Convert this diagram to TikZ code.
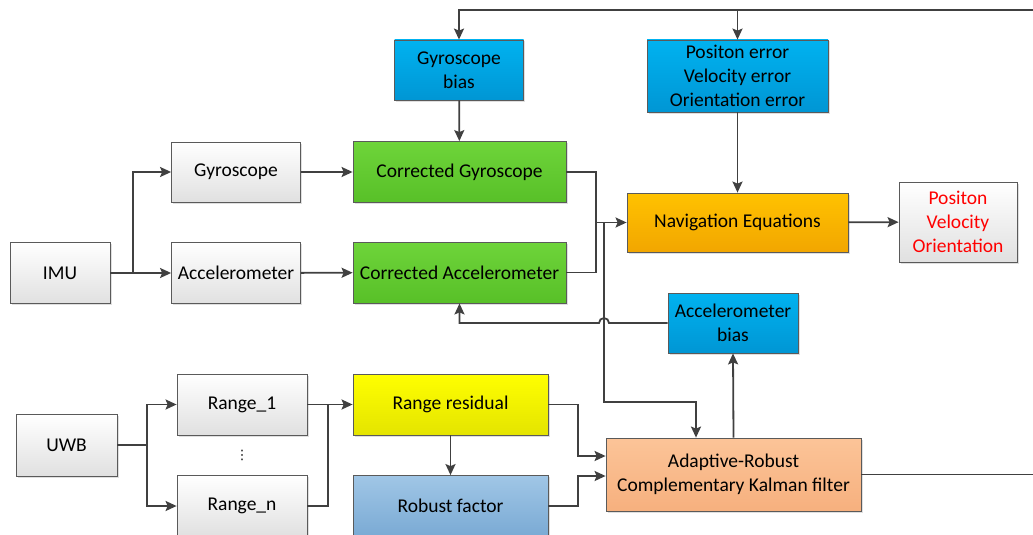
\documentclass[tikz,border=0pt]{standalone}
\usepackage{fontspec}
\setmainfont{Carlito}
\newfontfamily\symfont{DejaVu Sans}
\usepackage{tikz}
\usetikzlibrary{arrows.meta,shadows,calc}

\definecolor{linegray}{RGB}{64,64,64}
\definecolor{edgegray}{RGB}{90,90,90}
\definecolor{grntop}{RGB}{110,212,58}
\definecolor{grnbot}{RGB}{88,192,40}
\definecolor{bluetop}{RGB}{0,178,240}
\definecolor{bluebot}{RGB}{0,150,212}
\definecolor{orgtop}{RGB}{255,194,0}
\definecolor{orgbot}{RGB}{242,166,0}
\definecolor{ylwtop}{RGB}{255,255,0}
\definecolor{ylwbot}{RGB}{228,228,0}
\definecolor{robtop}{RGB}{160,198,230}
\definecolor{robbot}{RGB}{122,170,212}
\definecolor{kftop}{RGB}{252,196,152}
\definecolor{kfbot}{RGB}{246,176,126}

\begin{document}
\begin{tikzpicture}[
    x=1pt,y=-1pt,
    font=\fontsize{19.5}{24}\selectfont,
    >={Stealth[length=11pt,width=10pt,inset=2pt]},
    line width=1.8pt,draw=linegray,
    block/.style={draw=edgegray,line width=0.8pt,inner sep=0pt,align=center,
      drop shadow={shadow xshift=1.5pt,shadow yshift=-1.5pt,opacity=0.25}},
    plain/.style={block,top color=white,bottom color=black!12},
    sensor/.style={block,top color=grntop,bottom color=grnbot},
    bias/.style={block,top color=bluetop,bottom color=bluebot},
    navbox/.style={block,top color=orgtop,bottom color=orgbot},
    resbox/.style={block,top color=ylwtop,bottom color=ylwbot},
    robbox/.style={block,top color=robtop,bottom color=robbot},
    kfbox/.style={block,top color=kftop,bottom color=kfbot},
    link/.style={draw=linegray,line width=1.8pt}
  ]
  \useasboundingbox (0,0) rectangle (1033,535);

  % IMU branch
  \node[plain,minimum width=100,minimum height=61] (imu) at (60,273) {IMU};
  \node[plain,minimum width=129,minimum height=60] (gyro) at (236,172) {Gyroscope};
  \node[plain,minimum width=129,minimum height=61] (acc) at (236,273) {Accelerometer};
  \node[sensor,minimum width=213,minimum height=61] (cgyro) at (459.5,172) {Corrected Gyroscope};
  \node[sensor,minimum width=213,minimum height=61] (cacc) at (459.5,272.5) {Corrected Accelerometer};

  % error states
  \node[bias,minimum width=129,minimum height=60] (gbias) at (459,70) {Gyroscope\\bias};
  \node[bias,minimum width=181,minimum height=72] (perr) at (737.5,76) {Positon error\\Velocity error\\Orientation error};
  \node[bias,minimum width=130,minimum height=60] (abias) at (733,323) {Accelerometer\\bias};

  \node[navbox,minimum width=221,minimum height=59] (nav) at (737.5,222.5) {Navigation Equations};
  \node[plain,minimum width=118,minimum height=80,text=red] (out) at (958,222) {Positon\\Velocity\\Orientation};

  % UWB branch
  \node[plain,minimum width=101,minimum height=62] (uwb) at (66.5,445) {UWB};
  \node[plain,minimum width=130,minimum height=61] (r1) at (242,404.5) {Range\_1};
  \node[plain,minimum width=130,minimum height=61] (rn) at (242,506) {Range\_n};
  \node[inner sep=0pt,font=\symfont\fontsize{13}{13}\selectfont] (rdots) at (242,455) {⋮};
  \node[resbox,minimum width=195,minimum height=61] (rres) at (450.5,404.5) {Range residual};
  \node[robbox,minimum width=195,minimum height=61] (rob) at (450.5,506) {Robust factor};
  \node[kfbox,minimum width=255,minimum height=73] (kf) at (733.5,474.5) {Adaptive-Robust\\Complementary Kalman filter};

  \coordinate (imusplit) at (133,273);
  \coordinate (navin) at (596,222.5);
  \coordinate (kftap) at (604,222.5);
  \coordinate (kfbend) at (696,402);
  \coordinate (loopc) at (1040,10);
  \coordinate (uwbsplit) at (147,445);
  \coordinate (rmerge) at (328,404.5);
  \coordinate (kfin1) at (578,456);
  \coordinate (kfin2) at (578,476);

  \draw[link,->] (imu.east) -- (acc.west);
  \draw[link,->] (imusplit) |- (gyro.west);
  \draw[link,->] (gyro) -- (cgyro);
  \draw[link,->] (acc) -- (cacc);
  \draw[link] (cgyro.east) -| (navin) |- (cacc.east);
  \draw[link,->] (navin) -- (nav.west);
  \draw[link,->] (kftap) |- (kfbend) -- (kfbend |- kf.north);
  \draw[link,->] (nav) -- (out);
  \draw[link,->] (perr) -- (nav);
  \draw[link,->] (gbias) -- (cgyro);
  \draw[link,->] (kf.east) -| (loopc) -| (gbias.north);
  \draw[link,->] (perr.north |- loopc) -- (perr.north);
  \draw[link,->] (kf.north) -- (abias.south);
  \draw[link,->] (abias.west) -- (609,323) arc[start angle=0,end angle=180,radius=5pt] -| (cacc.south);

  \draw[link] (uwb.east) -- (uwbsplit);
  \draw[link,->] (uwbsplit) |- (r1.west);
  \draw[link,->] (uwbsplit) |- (rn.west);
  \draw[link] (rn.east) -| (rmerge);
  \draw[link,->] (r1.east) -- (rres.west);
  \draw[link,->] (rres) -- (rob);
  \draw[link,->] (rres.east) -| (kfin1) -- (kfin1 -| kf.west);
  \draw[link,->] (rob.east) -| (kfin2) -- (kfin2 -| kf.west);
\end{tikzpicture}
\end{document}
